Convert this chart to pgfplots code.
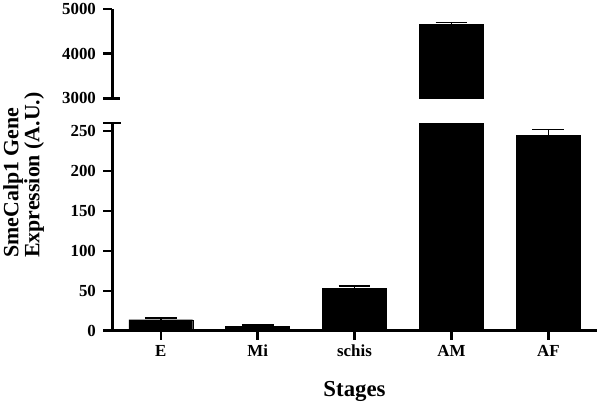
\documentclass[border=0pt]{standalone}
\usepackage{pgfplots}
\pgfplotsset{compat=1.18}
\usepackage{fontspec}
\setmainfont{Liberation Serif}

% E, Mi, schis, AM, AF with upward SEM
\pgfplotstableread{
x  y     err
0  13.7  2.5
1  5.4   1.6
2  53    3
3  4651  45
4  244.7 7.5
}\stagedata

\newcommand{\lab}{\bfseries\fontsize{22}{26}\selectfont}

\pgfplotsset{
  brokenbase/.style={
    scale only axis,
    width=488pt,
    xmin=-0.5, xmax=4.5,
    ybar, bar width=0.66,
    axis line style={line width=2.5pt, black},
    tick style={line width=2.5pt, black},
    tick align=outside,
    major tick length=9pt,
    ytick pos=left,
    scaled ticks=false,
    /pgf/number format/1000 sep={},
    /pgf/number format/assume math mode=true,
    yticklabel style={font=\bfseries\fontsize{17}{17}\selectfont, xshift=-4pt},
    xticklabel style={font=\bfseries\fontsize{17}{17}\selectfont, yshift=-2pt},
  },
  barstyle/.style={
    fill=black, draw=black,
    error bars/.cd, y dir=plus, y explicit,
    error bar style={line width=1.6pt, black},
    error mark options={rotate=90, mark size=16pt, line width=1.6pt, black},
    /pgfplots/.cd,
  },
}

\begin{document}
\begin{tikzpicture}
% lower segment 0-260
\begin{axis}[
  brokenbase,
  name=lower,
  height=209pt,
  ymin=0, ymax=260,
  ytick={0,50,100,150,200,250},
  axis x line*=bottom,
  axis y line*=left,
  xtick=data,
  xticklabels={E,Mi,schis,AM,AF},
  xlabel={\bfseries\fontsize{23}{23}\selectfont Stages},
  xlabel style={yshift=-18pt},
  ylabel={\lab SmeCalp1 Gene\\\lab Expression (A.U.)},
  ylabel style={at={(ticklabel cs:0.75)}, align=left, yshift=20pt},
]
\addplot[barstyle] table[x=x, y=y, y error=err] {\stagedata};
\coordinate (ltop) at (rel axis cs:0,1);
\end{axis}
% upper segment 3000-5000
\begin{axis}[
  brokenbase,
  at={(0,234pt)},
  height=90pt,
  ymin=3000, ymax=5000,
  ytick={3000,4000,5000},
  axis x line=none,
  axis y line*=left,
]
\addplot[restrict y to domain=3000:6000, barstyle] table[x=x, y=y, y error=err] {\stagedata};
\coordinate (ubot) at (rel axis cs:0,0);
\end{axis}
% break caps
\draw[line width=2.5pt, black] ([xshift=-9pt]ltop) -- ([xshift=9pt]ltop);
\draw[line width=2.5pt, black] ([xshift=-9pt]ubot) -- ([xshift=8pt]ubot);
\end{tikzpicture}
\end{document}
